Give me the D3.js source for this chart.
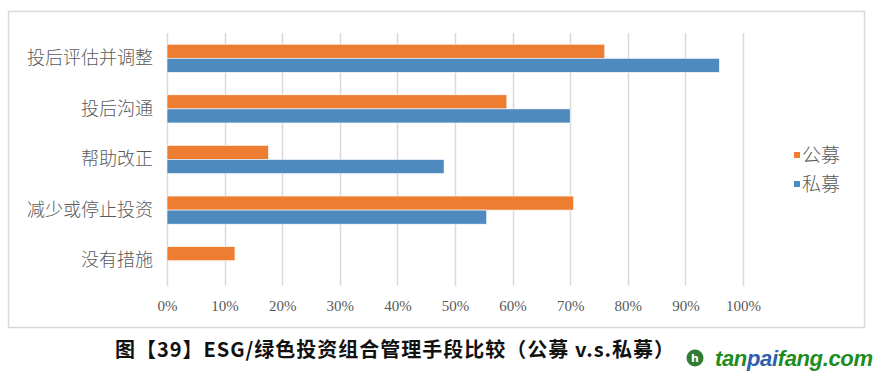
<!DOCTYPE html>
<html>
<head>
<meta charset="utf-8">
<script src="https://cdn.jsdelivr.net/npm/d3@7"></script>
<style>
  body { margin: 0; background: #fff; }
  svg { display: block; overflow: visible; }
</style>
</head>
<body>
<div id="chart"></div>
<script>
const categories = ["投后评估并调整", "投后沟通", "帮助改正", "减少或停止投资", "没有措施"]
const seriesNames = ["公募", "私募"]
const publicFund = [0.76, 0.59, 0.176, 0.706, 0.118]
const privateFund = [0.959, 0.70, 0.481, 0.555, 0]
const ticks = [0, 0.1, 0.2, 0.3, 0.4, 0.5, 0.6, 0.7, 0.8, 0.9, 1.0]
const colors = ["#ED7D31", "#4E8ABE"]
const title = "图【39】ESG/绿色投资组合管理手段比较（公募 v.s.私募）"

const width = 884, height = 378
const margin = {top: 33, left: 167, right: 884 - 743, bottom: 378 - 286}
const innerWidth = width - margin.left - margin.right
const innerHeight = height - margin.top - margin.bottom

const svg = d3.select("#chart").append("svg")
  .attr("width", width)
  .attr("height", height)

// chart frame
svg.append("rect")
  .attr("x", 8.5).attr("y", 11.5)
  .attr("width", 856).attr("height", 316)
  .attr("fill", "#fff")
  .attr("stroke", "#d9d9d9")
  .attr("stroke-width", 1.5)

const g = svg.append("g").attr("transform", "translate(" + margin.left + "," + margin.top + ")")

let x = d3.scaleLinear().domain([0, 1]).range([0, innerWidth])
let y = d3.scaleBand().domain(categories).range([0, innerHeight]).paddingInner(0.444).paddingOuter(0.222)
let ySub = d3.scaleBand().domain(seriesNames).range([0, y.bandwidth()])

// gridlines
g.selectAll(".grid")
  .data(ticks)
  .enter().append("line")
  .attr("class", "grid")
  .attr("x1", d => Math.round(x(d)) + 0.5)
  .attr("x2", d => Math.round(x(d)) + 0.5)
  .attr("y1", 0)
  .attr("y2", innerHeight)
  .attr("stroke", "#d9d9d9")
  .attr("stroke-width", 1.5)

// x axis labels
const xAxis = g.append("g")
  .attr("transform", "translate(0," + innerHeight + ")")
  .call(d3.axisBottom(x).tickValues(ticks).tickFormat(d3.format(".0%")).tickSize(0).tickPadding(14))
xAxis.select(".domain").remove()
xAxis.selectAll("text")
  .attr("font-family", "'Liberation Serif', serif")
  .attr("font-size", 15)
  .attr("fill", "#595959")

// y axis labels
const yAxis = g.append("g")
  .call(d3.axisLeft(y).tickSize(0).tickPadding(14))
yAxis.select(".domain").remove()
yAxis.selectAll("text")
  .attr("font-family", "'Noto Sans CJK SC', sans-serif")
  .attr("font-weight", 300)
  .attr("font-size", 18)
  .attr("fill", "#595959")

const rows = categories.map((c, i) => ({cat: c, values: [publicFund[i], privateFund[i]]}))

const bar = g.selectAll(".bar")
  .data(rows)
  .enter().append("g")
  .attr("class", "bar")
  .attr("transform", d => "translate(0," + y(d.cat) + ")")

bar.selectAll("rect")
  .data(d => d.values.map((v, j) => ({name: seriesNames[j], value: v, j: j})))
  .enter().append("rect")
  .attr("x", 0)
  .attr("y", d => ySub(d.name))
  .attr("width", d => x(d.value))
  .attr("height", ySub.bandwidth())
  .attr("fill", d => colors[d.j])
  .attr("stroke", d => d.value > 0 ? "#fff" : "none")
  .attr("stroke-width", 0.6)

// legend
const legend = svg.append("g")
  .selectAll("g")
  .data(seriesNames)
  .enter().append("g")
  .attr("transform", (d, i) => "translate(794," + (155 + i * 29) + ")")

legend.append("rect")
  .attr("x", 0).attr("y", -3)
  .attr("width", 6).attr("height", 6)
  .attr("fill", (d, i) => colors[i])

legend.append("text")
  .attr("x", 8)
  .attr("dy", "0.36em")
  .attr("font-family", "'Noto Sans CJK SC', sans-serif")
  .attr("font-weight", 300)
  .attr("font-size", 19)
  .attr("fill", "#595959")
  .text(d => d)

// title
svg.append("text")
  .attr("x", 395)
  .attr("y", 350)
  .attr("dy", "0.35em")
  .attr("text-anchor", "middle")
  .attr("font-family", "'Noto Sans CJK SC', sans-serif")
  .attr("font-weight", 700)
  .attr("font-size", 20)
  .attr("letter-spacing", 1)
  .attr("fill", "#111")
  .text(title)

// watermark
const logo = svg.append("g").attr("transform", "translate(695,358)")
logo.append("circle").attr("r", 8.5).attr("fill", "#2e7d32")
logo.append("text")
  .attr("text-anchor", "middle").attr("dy", "0.35em")
  .attr("font-family", "'DejaVu Sans', sans-serif").attr("font-weight", 700)
  .attr("font-size", 11).attr("fill", "#fff")
  .text("h")
const wm = svg.append("text")
  .attr("x", 715).attr("y", 358).attr("dy", "0.35em")
  .attr("font-family", "'Liberation Sans', sans-serif")
  .attr("font-weight", 700).attr("font-style", "italic")
  .attr("font-size", 22)
  .attr("textLength", 158)
  .attr("fill", "#1e8c1e")
wm.append("tspan").text("tan")
wm.append("tspan").attr("fill", "#2f5fae").text("pai")
wm.append("tspan").text("fang.com")
</script>
</body>
</html>
